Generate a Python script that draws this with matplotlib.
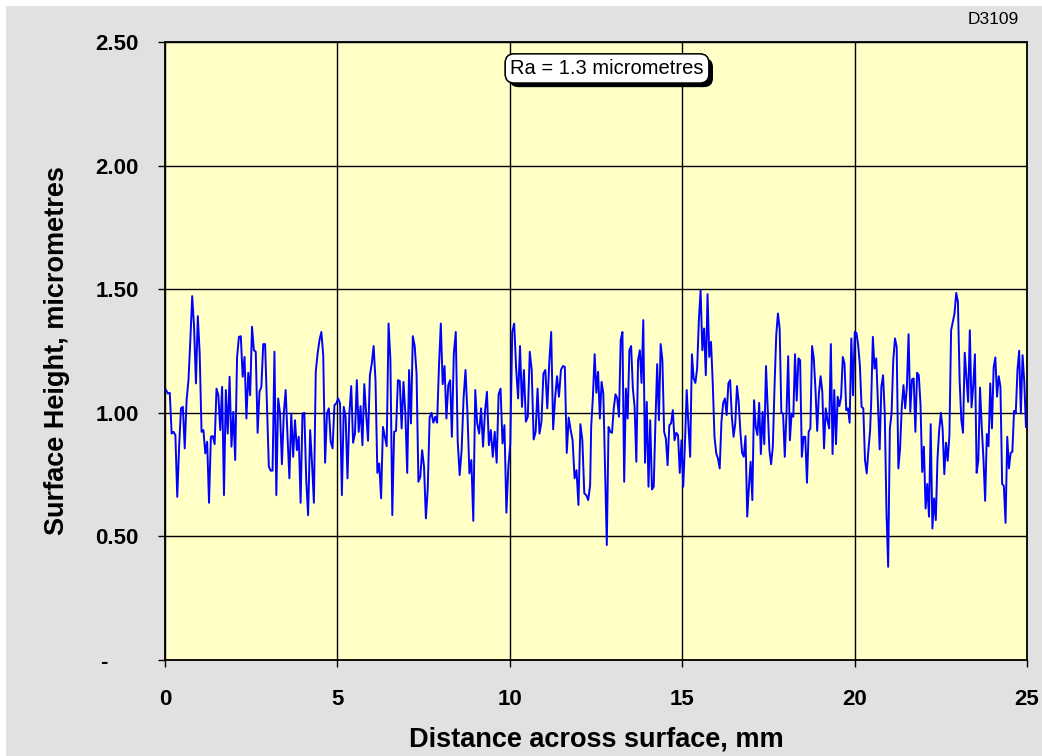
import numpy as np
import matplotlib
matplotlib.use("Agg")
import matplotlib.pyplot as plt
from matplotlib.patches import Rectangle
import matplotlib.patheffects as pe

plt.rcParams['font.family'] = ['Liberation Sans', 'DejaVu Sans']

# === Datos: perfil de superficie, por tramos ===
# cada tramo: (x inicio mm, x fin mm, alturas en micrometros)
alturas_1 = [1.092, 1.078, 1.081, 0.916, 0.923, 0.910, 0.660, 0.863, 1.018, 1.024,
             0.856, 1.051, 1.132, 1.294, 1.472, 1.348, 1.119, 1.391, 1.240, 0.923,
             0.930, 0.836, 0.883, 0.636, 0.903, 0.906, 0.873, 1.098, 1.071, 0.930,
             1.105, 0.667, 1.092, 0.916, 1.146, 0.863, 1.004, 0.809, 1.226, 1.307,
             1.310, 1.146, 1.226, 0.977, 1.162, 1.071, 1.348, 1.253, 1.247, 0.919,
             1.085, 1.105, 1.278, 1.278, 1.024, 0.782, 0.766, 0.766, 1.247, 0.667,
             1.058, 0.997, 0.792, 0.997, 1.092, 0.903, 0.735, 0.997, 0.822, 0.970,
             0.849, 0.903, 0.636, 0.997, 1.000, 0.728, 0.586]
alturas_2 = [0.930, 0.795, 0.636, 1.166, 1.240, 1.294, 1.327, 1.233, 0.798, 0.997,
             1.018, 0.883, 0.856, 1.031, 1.038, 1.058, 1.038, 0.667, 1.024, 0.984,
             0.735, 0.997, 1.108, 0.879, 0.916, 1.132, 0.923, 1.027, 0.869, 1.116,
             0.997, 0.887, 1.152, 1.199, 1.270, 1.132, 0.757, 0.795, 0.654, 0.943,
             0.903, 0.865, 1.361, 1.213, 0.586, 0.923, 0.927, 1.132, 1.129, 0.937,
             1.125, 0.997, 0.757, 1.173, 0.957, 1.310, 1.270, 1.159, 0.721, 0.741,
             0.849, 0.782, 0.573, 0.694, 0.981, 1.000, 0.960, 0.984, 0.960, 1.186,
             1.361, 1.116, 1.189, 0.977, 1.112, 1.132]
alturas_3 = [0.903, 1.240, 1.327, 0.883, 0.748, 0.849, 1.058, 1.173, 0.997, 0.755,
             0.809, 0.563, 1.092, 0.957, 0.916, 1.018, 0.863, 1.004, 1.085, 0.869,
             0.930, 0.822, 0.923, 0.798, 1.075, 1.098, 0.876, 0.950, 0.596, 0.782,
             0.876, 1.327, 1.361, 1.179, 1.058, 1.270, 1.024, 1.173, 0.964, 0.984,
             1.247, 1.173, 0.892, 0.923, 1.098, 0.916, 0.964, 1.159, 1.173, 1.018,
             1.202, 1.327, 0.933, 1.058, 1.148, 1.065, 1.173, 1.189, 1.186, 0.838,
             0.981, 0.930, 0.889, 0.735, 0.768, 0.627, 0.954, 0.889, 0.674, 0.667,
             0.647, 0.708]
alturas_4 = [0.943, 1.065, 1.237, 1.081, 1.166, 0.977, 1.125, 1.078, 0.768, 0.465,
             0.943, 0.923, 0.919, 1.018, 1.075, 1.058, 0.984, 1.294, 1.327, 0.721,
             1.098, 0.977, 1.253, 1.270, 1.098, 1.024, 0.802, 1.213, 1.253, 1.121,
             1.375, 0.798, 1.044, 0.701, 0.970, 0.690, 0.701, 0.964, 1.197, 0.970,
             1.278, 1.213, 0.923, 0.896, 0.788, 0.950, 0.957, 1.011, 0.889, 0.919,
             0.910, 0.757, 0.889, 0.701, 0.876, 1.092, 0.950, 0.822, 1.237, 1.139,
             1.121, 1.179, 1.375, 1.496, 1.253, 1.341, 1.152, 1.480, 1.226, 1.287,
             1.119, 0.903, 0.836, 0.815, 0.775, 0.964, 1.040, 1.058, 0.991, 1.119,
             1.132]
alturas_5 = [0.984, 0.903, 0.957, 1.108, 1.044, 0.923, 0.838, 0.822, 0.906, 0.580,
             0.701, 0.802, 0.647, 1.051, 0.943, 0.910, 1.040, 0.833, 1.004, 0.873,
             1.189, 1.024, 0.849, 0.792, 0.863, 1.105, 1.314, 1.402, 1.341, 1.000,
             0.997, 0.822, 0.997, 1.229, 0.889, 0.997, 0.984, 1.237, 1.049, 1.220,
             1.213, 0.822, 0.903, 0.903, 0.717, 0.923, 0.937, 1.270, 1.220, 1.092,
             0.927, 1.078, 1.148, 1.085, 0.856, 1.018, 0.970, 0.937, 1.278, 0.833,
             1.092, 0.873, 1.065, 1.027, 1.065, 1.226, 1.199, 1.011, 1.018, 0.960,
             1.301, 1.071, 1.327, 1.323, 1.274, 1.193, 1.024, 1.018, 0.809, 0.755,
             0.849, 0.930]
alturas_6 = [1.038, 1.307, 1.179, 1.220, 1.038, 0.852, 1.105, 1.152, 0.997, 0.600,
             0.377, 0.937, 0.997, 1.213, 1.301, 1.267, 0.775, 0.856, 1.024, 1.112,
             1.018, 1.105, 1.318, 1.004, 1.135, 1.139, 0.923, 1.162, 1.152, 1.035,
             0.761, 0.863, 0.613, 0.712, 0.580, 0.954, 0.532, 0.654, 0.566, 0.815,
             0.930, 1.000, 0.937, 0.752, 0.879, 0.806, 0.910, 1.334, 1.368, 1.402,
             1.485, 1.449, 1.132, 0.970, 0.919, 1.243, 1.143, 1.044, 1.334, 1.022,
             1.108, 1.237, 0.757, 0.809, 1.102, 0.943, 0.815, 0.644, 0.914, 0.865,
             1.119, 0.937, 1.183, 1.224, 1.065, 1.148, 1.105, 0.712, 0.704, 0.555,
             0.903, 0.775, 0.838, 0.842, 1.008, 0.997, 1.173, 1.251, 0.997, 1.233,
             1.125, 0.943]

tramos = [(0.03, 4.15, alturas_1), (4.21, 8.27, alturas_2), (8.32, 12.33, alturas_3),
          (12.36, 16.39, alturas_4), (16.44, 20.45, alturas_5), (20.48, 24.97, alturas_6)]

distancia = np.concatenate([np.linspace(a, b, len(h)) for a, b, h in tramos])
altura = np.concatenate([h for _, _, h in tramos])

y_ticks = [0, 0.5, 1.0, 1.5, 2.0, 2.5]
y_tick_labels = ["-     ", "0.50", "1.00", "1.50", "2.00", "2.50"]
x_ticks = [0, 5, 10, 15, 20, 25]

# === Figura ===
fig = plt.figure(figsize=(10.42, 7.56), dpi=100, facecolor="white")
fondo = Rectangle((6 / 1042, 0), 1, 1 - 6 / 756, transform=fig.transFigure,
                  facecolor="#E1E1E1", edgecolor="none", zorder=-10)
fig.patches.append(fondo)

ax = fig.add_axes([165 / 1042, 1 - 660 / 756, 862 / 1042, 618 / 756])
ax.set_zorder(2)
ax.set_facecolor("#FFFFC6")

ax.plot(distancia, altura, color="#0000FF", linewidth=1.4, zorder=3)

ax.set_xlim(0, 25)
ax.set_ylim(0, 2.5)
ax.set_xticks(x_ticks)
ax.set_xticklabels([str(v) for v in x_ticks], fontsize=16, fontweight="bold")
ax.set_yticks(y_ticks)
ax.set_yticklabels(y_tick_labels, fontsize=16, fontweight="bold")
ax.tick_params(axis="y", direction="out", length=5, width=1, pad=14)
ax.tick_params(axis="x", direction="out", length=5, width=1, pad=16)

ax.grid(True, color="black", linewidth=1, zorder=1)
ax.set_axisbelow(True)
for s in ax.spines.values():
    s.set_color("black")
    s.set_linewidth(1.3)

ax.set_xlabel("Distance across surface, mm", fontsize=19.5, fontweight="bold", labelpad=12)
ax.set_ylabel("Surface Height, micrometres", fontsize=19.5, fontweight="bold", labelpad=18)

t = ax.text(12.82, 2.393, "Ra = 1.3 micrometres", fontsize=14.5, ha="center", va="center",
            zorder=5, bbox=dict(boxstyle="round,pad=0.25,rounding_size=0.45",
                                facecolor="white", edgecolor="black", linewidth=1))
t.get_bbox_patch().set_path_effects([pe.withSimplePatchShadow(offset=(3, -3),
                                     shadow_rgbFace="black", alpha=1.0), pe.Normal()])

fig.text(993 / 1042, 1 - 20 / 756, "D3109", fontsize=12.5, ha="center", va="center")

plt.savefig("out.png", dpi=100, facecolor=fig.get_facecolor())
plt.close()
